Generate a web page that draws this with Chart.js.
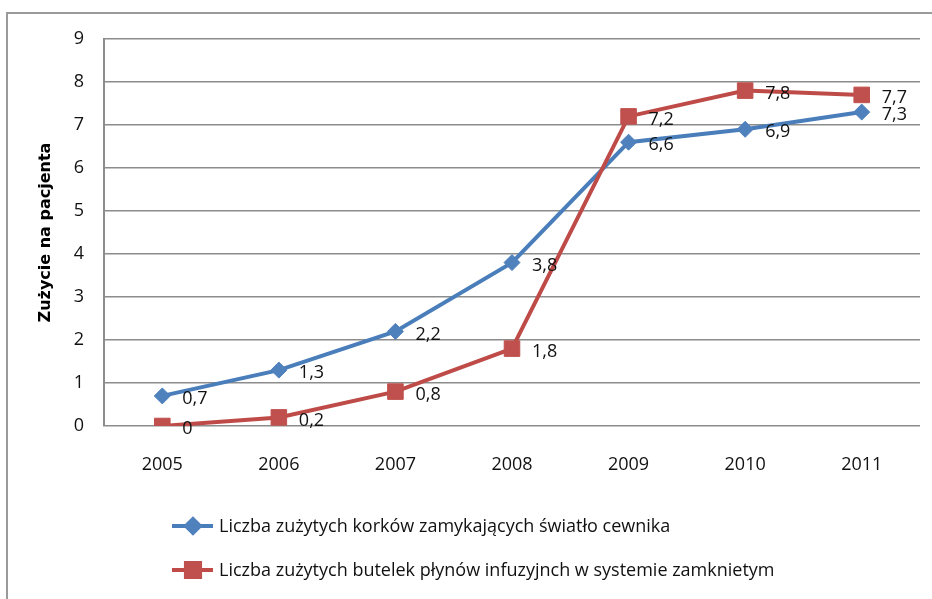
<!DOCTYPE html>
<html><head><meta charset="utf-8">
<script src="https://cdn.jsdelivr.net/npm/chart.js@4/dist/chart.umd.min.js"></script>
<style>html,body{margin:0;padding:0;background:#fff;}#wrap{width:932px;height:599px;position:relative;overflow:hidden;}</style>
</head><body><div id="wrap"><canvas id="c" width="932" height="599"></canvas></div>
<script>
const years = ['2005','2006','2007','2008','2009','2010','2011'];
const seriesNames = [
  'Liczba zużytych korków zamykających światło cewnika',
  'Liczba zużytych butelek płynów infuzyjnch w systemie zamknietym'
];
const corks = [0.7, 1.3, 2.2, 3.8, 6.6, 6.9, 7.3];
const bottles = [0, 0.2, 0.8, 1.8, 7.2, 7.8, 7.7];
const yMin = 0, yMax = 9, yStep = 1;
const yTitle = 'Zużycie na pacjenta';

const FONT = '"Open Sans", "DejaVu Sans", sans-serif';
const GRID = '#8c8c8c';

const borderPlugin = {
  id: 'outerBorder',
  beforeDraw(chart) {
    const ctx = chart.ctx;
    ctx.save();
    ctx.fillStyle = '#fff';
    ctx.fillRect(0, 0, chart.width, chart.height);
    ctx.strokeStyle = '#9a9a9a';
    ctx.lineWidth = 2;
    ctx.strokeRect(7, 13, chart.width + 20, chart.height + 20);
    ctx.restore();
  }
};

const labelPlugin = {
  id: 'dataLabels',
  afterDatasetsDraw(chart) {
    const ctx = chart.ctx;
    ctx.save();
    ctx.font = '18px ' + FONT;
    ctx.fillStyle = '#111';
    ctx.textAlign = 'left';
    ctx.textBaseline = 'middle';
    chart.data.datasets.forEach((ds, i) => {
      const meta = chart.getDatasetMeta(i);
      meta.data.forEach((pt, j) => {
        ctx.fillText(String(ds.data[j]).replace('.', ','), pt.x + 20, pt.y + 3);
      });
    });
    ctx.restore();
  }
};

const legendPlugin = {
  id: 'customLegend',
  afterDraw(chart) {
    const ctx = chart.ctx;
    ctx.save();
    chart.data.datasets.forEach((ds, i) => {
      const y = 526 + i * 44;
      ctx.strokeStyle = ds.borderColor;
      ctx.lineWidth = 4;
      ctx.beginPath();
      ctx.moveTo(172, y);
      ctx.lineTo(213, y);
      ctx.stroke();
      ctx.fillStyle = ds.pointBackgroundColor;
      ctx.strokeStyle = ds.pointBorderColor;
      Chart.helpers.drawPoint(ctx, {
        pointStyle: ds.pointStyle,
        radius: ds.pointStyle === 'rect' ? 10 : 7,
        rotation: 0,
        borderWidth: 1
      }, 193, y);
      ctx.fillStyle = '#111';
      ctx.font = '18px ' + FONT;
      ctx.textAlign = 'left';
      ctx.textBaseline = 'middle';
      ctx.fillText(ds.label, 219, y + 1);
    });
    ctx.restore();
  }
};

new Chart(document.getElementById('c'), {
  type: 'line',
  data: {
    labels: years,
    datasets: [
      {
        label: seriesNames[0],
        data: corks,
        borderColor: '#4a7ebb',
        backgroundColor: '#4f81bd',
        pointBackgroundColor: '#4f81bd',
        pointBorderColor: '#4f81bd',
        pointStyle: 'rectRot',
        pointRadius: 8,
        pointBorderWidth: 1,
        borderWidth: 4,
        tension: 0,
        order: 1
      },
      {
        label: seriesNames[1],
        data: bottles,
        borderColor: '#be4b48',
        backgroundColor: '#c0504d',
        pointBackgroundColor: '#c0504d',
        pointBorderColor: '#c0504d',
        pointStyle: 'rect',
        pointRadius: 11,
        pointBorderWidth: 1,
        borderWidth: 4,
        tension: 0,
        order: 0
      }
    ]
  },
  options: {
    responsive: false,
    animation: false,
    devicePixelRatio: 1,
    layout: { padding: { top: 39, right: 9, bottom: 113, left: 0 } },
    plugins: {
      legend: { display: false },
      tooltip: { enabled: false }
    },
    scales: {
      x: {
        offset: true,
        grid: { display: false, drawTicks: false },
        border: { display: false },
        ticks: { color: '#111', font: { family: FONT, size: 18 }, padding: 28 },
        afterFit(scale) { scale.height = 60; }
      },
      y: {
        min: yMin, max: yMax,
        grid: { color: GRID, lineWidth: 1.5, drawTicks: false },
        border: { display: true, color: GRID, width: 2 },
        ticks: { stepSize: yStep, color: '#111', font: { family: FONT, size: 18 }, padding: 20 },
        title: {
          display: true, text: yTitle, color: '#000',
          font: { family: '"DejaVu Sans", sans-serif', size: 16, weight: 'bold' },
          padding: { top: 36, bottom: 0 }
        },
        afterFit(scale) { scale.width = 104; }
      }
    }
  },
  plugins: [borderPlugin, labelPlugin, legendPlugin]
});
</script>
</body></html>
